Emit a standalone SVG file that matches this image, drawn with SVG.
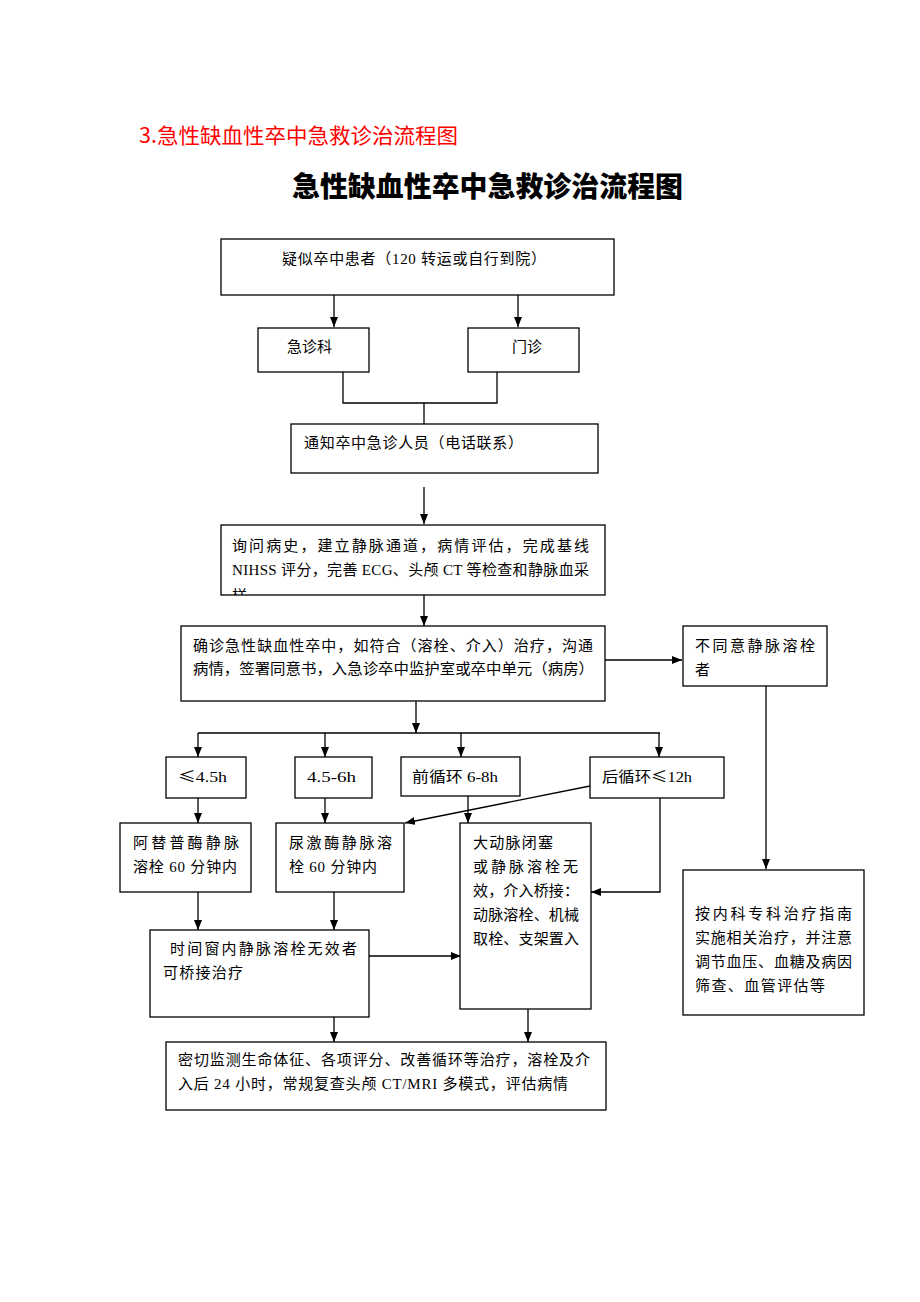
<svg xmlns="http://www.w3.org/2000/svg" width="920" height="1302" viewBox="0 0 920 1302">
<style>
.bx{fill:#fff;stroke:#000;stroke-width:1.3}
.t{font-family:"Liberation Serif","Noto Sans CJK SC",serif;font-size:15px;fill:#000}
.cj{font-family:"Noto Sans CJK SC",sans-serif}
.c{fill:none;stroke:#000;stroke-width:1.3}
</style>
<defs>
<marker id="ah" viewBox="0 0 10 8" refX="10" refY="4" markerWidth="10" markerHeight="8" markerUnits="userSpaceOnUse" orient="auto"><path d="M0,0 L10,4 L0,8 z" fill="#000"/></marker>
<clipPath id="clipAsk"><rect x="221" y="525" width="384" height="70"/></clipPath>
</defs>
<rect width="920" height="1302" fill="#fff"/>
<text x="139" y="143" font-family="'Noto Sans CJK SC',sans-serif" font-size="21" fill="#ff0000" textLength="319" lengthAdjust="spacingAndGlyphs">3.急性缺血性卒中急救诊治流程图</text>
<text x="292" y="197" font-family="'Noto Sans CJK SC',sans-serif" font-size="28" font-weight="900" fill="#000" textLength="391" lengthAdjust="spacingAndGlyphs">急性缺血性卒中急救诊治流程图</text>

<g id="connectors">
<line class="c" x1="334" y1="295" x2="334" y2="327" marker-end="url(#ah)"/>
<line class="c" x1="518" y1="295" x2="518" y2="327" marker-end="url(#ah)"/>
<polyline class="c" points="343,372 343,403 497,403 497,372"/>
<line class="c" x1="424" y1="403" x2="424" y2="424"/>
<line class="c" x1="424" y1="487" x2="424" y2="524" marker-end="url(#ah)"/>
<line class="c" x1="424" y1="595" x2="424" y2="626" marker-end="url(#ah)"/>
<line class="c" x1="605" y1="660" x2="682" y2="660" marker-end="url(#ah)"/>
<line class="c" x1="766" y1="686" x2="766" y2="869" marker-end="url(#ah)"/>
<line class="c" x1="416" y1="701" x2="416" y2="733" marker-end="url(#ah)"/>
<line class="c" x1="198" y1="733" x2="660" y2="733"/>
<line class="c" x1="198" y1="733" x2="198" y2="757" marker-end="url(#ah)"/>
<line class="c" x1="325" y1="733" x2="325" y2="757" marker-end="url(#ah)"/>
<line class="c" x1="461" y1="733" x2="461" y2="757" marker-end="url(#ah)"/>
<line class="c" x1="659" y1="733" x2="659" y2="757" marker-end="url(#ah)"/>
<line class="c" x1="198" y1="798" x2="198" y2="823" marker-end="url(#ah)"/>
<line class="c" x1="325" y1="798" x2="325" y2="823" marker-end="url(#ah)"/>
<line class="c" x1="590" y1="786" x2="405" y2="823" marker-end="url(#ah)"/>
<line class="c" x1="468" y1="796" x2="468" y2="823" marker-end="url(#ah)"/>
<polyline class="c" points="660,798 660,892 591,892" marker-end="url(#ah)"/>
<line class="c" x1="198" y1="892" x2="198" y2="930" marker-end="url(#ah)"/>
<line class="c" x1="334" y1="892" x2="334" y2="930" marker-end="url(#ah)"/>
<line class="c" x1="369" y1="956" x2="461" y2="956" marker-end="url(#ah)"/>
<line class="c" x1="334" y1="1017" x2="334" y2="1042" marker-end="url(#ah)"/>
<line class="c" x1="528" y1="1009" x2="528" y2="1042" marker-end="url(#ah)"/>
</g>

<g id="n-suspect">
<rect class="bx" x="221" y="239" width="393" height="56"/>
<text class="t" x="282" y="264" textLength="264" lengthAdjust="spacing">疑似卒中患者（120 转运或自行到院）</text>
</g>
<g id="n-er">
<rect class="bx" x="258" y="328" width="111" height="44"/>
<text class="t" x="287" y="352">急诊科</text>
</g>
<g id="n-clinic">
<rect class="bx" x="468" y="328" width="111" height="44"/>
<text class="t" x="512" y="352">门诊</text>
</g>
<g id="n-notify">
<rect class="bx" x="291" y="424" width="307" height="49"/>
<text class="t" x="304" y="448" textLength="219" lengthAdjust="spacing">通知卒中急诊人员（电话联系）</text>
</g>
<g id="n-ask">
<rect class="bx" x="221" y="525" width="384" height="70"/>
<text class="t" x="232" y="551" textLength="357" lengthAdjust="spacing">询问病史，建立静脉通道，病情评估，完成基线</text>
<text class="t" x="232" y="575" textLength="357" lengthAdjust="spacing">NIHSS 评分，完善 ECG、头颅 CT 等检查和静脉血采</text>
<text class="t" x="232" y="601" clip-path="url(#clipAsk)">样</text>
</g>
<g id="n-confirm">
<rect class="bx" x="181" y="626" width="424" height="75"/>
<text class="t" x="193" y="651" textLength="400" lengthAdjust="spacing">确诊急性缺血性卒中，如符合（溶栓、介入）治疗，沟通</text>
<text class="t" x="193" y="674" textLength="401" lengthAdjust="spacingAndGlyphs">病情，签署同意书，入急诊卒中监护室或卒中单元（病房）</text>
</g>
<g id="n-refuse">
<rect class="bx" x="683" y="626" width="144" height="60"/>
<text class="t" x="695" y="651" textLength="120" lengthAdjust="spacing">不同意静脉溶栓</text>
<text class="t" x="695" y="675">者</text>
</g>
<g id="n-medical">
<rect class="bx" x="683" y="870" width="181" height="145"/>
<text class="t" x="695" y="919" textLength="157" lengthAdjust="spacing">按内科专科治疗指南</text>
<text class="t" x="695" y="943" textLength="157" lengthAdjust="spacing">实施相关治疗，并注意</text>
<text class="t" x="695" y="967" textLength="157" lengthAdjust="spacing">调节血压、血糖及病因</text>
<text class="t" x="695" y="991" textLength="130" lengthAdjust="spacing">筛查、血管评估等</text>
</g>
<g id="n-le45">
<rect class="bx" x="166" y="757" width="80" height="41"/>
<text class="t" x="178" y="782" textLength="49" lengthAdjust="spacingAndGlyphs"><tspan class="cj">≤</tspan>4.5h</text>
</g>
<g id="n-45-6">
<rect class="bx" x="295" y="757" width="77" height="41"/>
<text class="t" x="307" y="782" textLength="49" lengthAdjust="spacingAndGlyphs">4.5-6h</text>
</g>
<g id="n-anterior">
<rect class="bx" x="401" y="757" width="119" height="39"/>
<text class="t" x="412" y="782" textLength="86" lengthAdjust="spacingAndGlyphs">前循环 6-8h</text>
</g>
<g id="n-posterior">
<rect class="bx" x="590" y="757" width="134" height="41"/>
<text class="t" x="602" y="782" textLength="90" lengthAdjust="spacingAndGlyphs">后循环<tspan class="cj">≤</tspan>12h</text>
</g>
<g id="n-alteplase">
<rect class="bx" x="120" y="823" width="131" height="69"/>
<text class="t" x="133" y="848" textLength="106" lengthAdjust="spacing">阿替普酶静脉</text>
<text class="t" x="133" y="872" textLength="104" lengthAdjust="spacing">溶栓 60 分钟内</text>
</g>
<g id="n-urokinase">
<rect class="bx" x="276" y="823" width="128" height="69"/>
<text class="t" x="289" y="848" textLength="103" lengthAdjust="spacing">尿激酶静脉溶</text>
<text class="t" x="289" y="872" textLength="88" lengthAdjust="spacing">栓 60 分钟内</text>
</g>
<g id="n-lvo">
<rect class="bx" x="460" y="823" width="131" height="186"/>
<text class="t" x="473" y="848" textLength="80" lengthAdjust="spacing">大动脉闭塞</text>
<text class="t" x="473" y="872" textLength="105" lengthAdjust="spacing">或静脉溶栓无</text>
<text class="t" x="473" y="896" textLength="106" lengthAdjust="spacing">效，介入桥接：</text>
<text class="t" x="473" y="920" textLength="106" lengthAdjust="spacing">动脉溶栓、机械</text>
<text class="t" x="473" y="944" textLength="106" lengthAdjust="spacing">取栓、支架置入</text>
</g>
<g id="n-window">
<rect class="bx" x="150" y="930" width="219" height="87"/>
<text class="t" x="170" y="954" textLength="187" lengthAdjust="spacing">时间窗内静脉溶栓无效者</text>
<text class="t" x="163" y="978" textLength="80" lengthAdjust="spacing">可桥接治疗</text>
</g>
<g id="n-monitor">
<rect class="bx" x="166" y="1042" width="440" height="68"/>
<text class="t" x="178" y="1065" textLength="412" lengthAdjust="spacing">密切监测生命体征、各项评分、改善循环等治疗，溶栓及介</text>
<text class="t" x="178" y="1089" textLength="390" lengthAdjust="spacing">入后 24 小时，常规复查头颅 CT/MRI 多模式，评估病情</text>
</g>
</svg>
